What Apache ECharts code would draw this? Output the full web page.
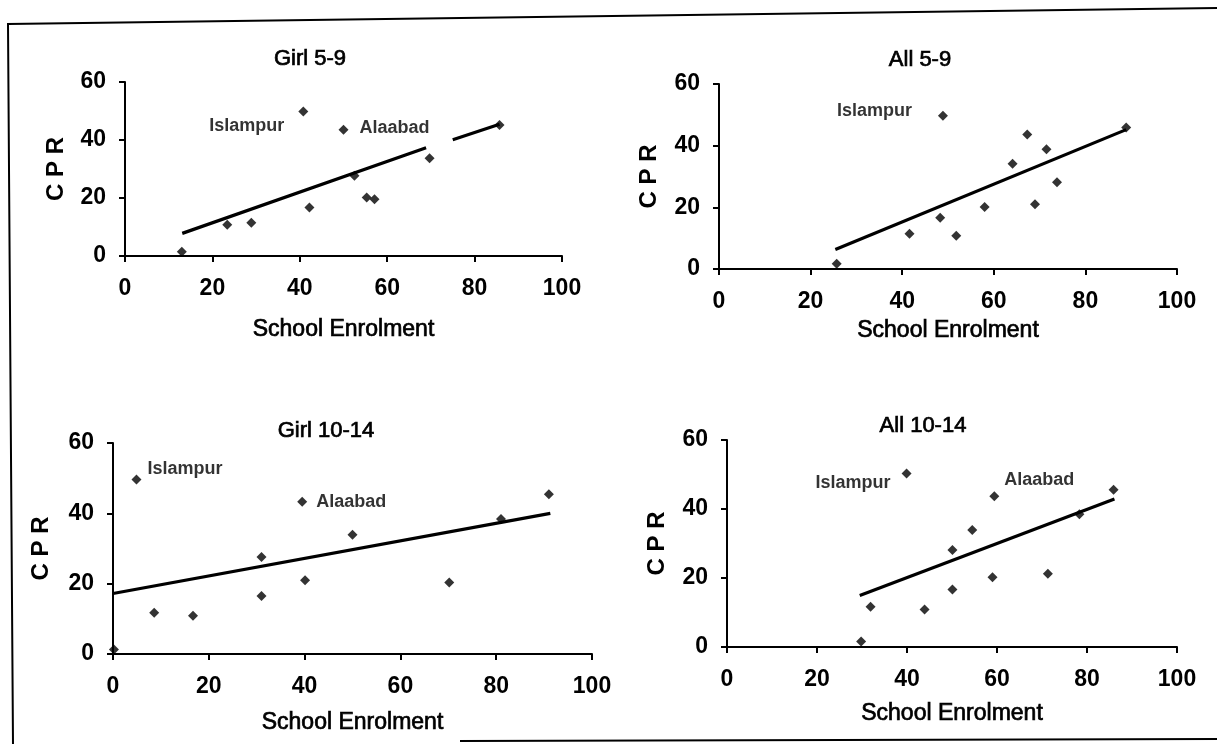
<!DOCTYPE html>
<html><head><meta charset="utf-8">
<script src="https://cdn.jsdelivr.net/npm/echarts@6/dist/echarts.min.js"></script>
<style>html,body{margin:0;padding:0;background:#fff}#c{width:1217px;height:744px}</style>
</head><body><div id="c"></div>
<script>
// ---------- data ----------
const panelTitles = ['Girl 5-9', 'All 5-9', 'Girl 10-14', 'All 10-14'];
const xAxisName = 'School Enrolment';
const yAxisName = 'C P R';
const xMin = 0, xMax = 100, xStep = 20;
const yMin = 0, yMax = 60, yStep = 20;

// Girl 5-9
const girl59X = [13, 23.4, 28.9, 40.8, 42.2, 50, 52.5, 55.3, 57.1, 69.7, 85.7];
const girl59Y = [1.5, 10.8, 11.5, 49.8, 16.7, 43.5, 27.7, 20.2, 19.6, 33.7, 45.2];
const girl59Names = ['', '', '', 'Islampur', '', 'Alaabad', '', '', '', '', ''];
const girl59TrendX = [13.1, 68.9, null, 75, 85.7];
const girl59TrendY = [7.8, 37.3, null, 40.1, 45.4];

// All 5-9
const all59X = [25.7, 41.6, 48.3, 48.9, 51.8, 58, 64.1, 67.3, 69, 71.5, 73.8, 88.9];
const all59Y = [1.7, 11.4, 16.6, 49.7, 10.8, 20.1, 34.1, 43.6, 21, 38.8, 28.1, 45.9];
const all59Names = ['', '', '', 'Islampur', '', '', '', '', '', '', '', ''];
const all59TrendX = [25.4, 88.9];
const all59TrendY = [6.3, 45.2];

// Girl 10-14
const girl1014X = [0.2, 4.9, 8.6, 16.7, 31, 31, 39.5, 40.1, 50, 70.2, 81, 91];
const girl1014Y = [1.3, 49.6, 11.7, 10.9, 27.6, 16.5, 43.3, 21, 33.9, 20.3, 38.4, 45.4];
const girl1014Names = ['', 'Islampur', '', '', '', '', 'Alaabad', '', '', '', '', ''];
const girl1014TrendX = [0, 91.3];
const girl1014TrendY = [17.2, 40];

// All 10-14
const all1014X = [29.8, 31.9, 39.9, 43.9, 50.1, 50.1, 54.5, 59, 59.4, 71.3, 78.3, 85.9];
const all1014Y = [1.6, 11.7, 50.3, 10.9, 28.1, 16.7, 33.9, 20.2, 43.7, 21.2, 38.5, 45.6];
const all1014Names = ['', '', 'Islampur', '', '', '', '', '', 'Alaabad', '', '', ''];
const all1014TrendX = [29.5, 86.1];
const all1014TrendY = [14.9, 42.9];

// ---------- layout / styles ----------
const FONT = "'Liberation Sans', Arial, Helvetica, sans-serif";
const panels = [
  {xs: girl59X, ys: girl59Y, names: girl59Names, tx: girl59TrendX, ty: girl59TrendY,
   grid: {left: 125, top: 82, width: 437, height: 174}, titleX: 310, titleY: 48, xNameGap: 62, yNameGap: 57,
   labelStyle: {Islampur: {position: 'left', distance: 14, offset: [0, 14]}, Alaabad: {position: 'right', distance: 11, offset: [0, -2]}}},
  {xs: all59X, ys: all59Y, names: all59Names, tx: all59TrendX, ty: all59TrendY,
   grid: {left: 719, top: 84, width: 458, height: 185}, titleX: 920, titleY: 49, xNameGap: 50, yNameGap: 58,
   labelStyle: {Islampur: {position: 'left', distance: 26, offset: [0, -5]}}},
  {xs: girl1014X, ys: girl1014Y, names: girl1014Names, tx: girl1014TrendX, ty: girl1014TrendY,
   grid: {left: 113, top: 443, width: 479, height: 211}, titleX: 326, titleY: 420, xNameGap: 57, yNameGap: 60,
   labelStyle: {Islampur: {position: 'right', distance: 6, offset: [0, -11]}, Alaabad: {position: 'right', distance: 9, offset: [0, 0]}}},
  {xs: all1014X, ys: all1014Y, names: all1014Names, tx: all1014TrendX, ty: all1014TrendY,
   grid: {left: 727, top: 440, width: 450, height: 207}, titleX: 923, titleY: 415, xNameGap: 55, yNameGap: 58,
   labelStyle: {Islampur: {position: 'left', distance: 11, offset: [0, 10]}, Alaabad: {position: 'right', distance: 5, offset: [0, -16]}}}
];

const axisLineStyle = {color: '#000', width: 2};
const grids = [], xAxes = [], yAxes = [], series = [], titles = [];
panels.forEach((p, i) => {
  grids.push(Object.assign({containLabel: false}, p.grid));
  titles.push({text: panelTitles[i], left: p.titleX, top: p.titleY, textAlign: 'center', padding: 0,
    textStyle: {fontFamily: FONT, fontSize: 22, fontWeight: 'normal', color: '#000', textBorderColor: '#000', textBorderWidth: 0.7}});
  xAxes.push({gridIndex: i, type: 'value', min: xMin, max: xMax, interval: xStep,
    name: xAxisName, nameLocation: 'middle', nameGap: p.xNameGap,
    nameTextStyle: {fontFamily: FONT, fontSize: 23, color: '#000', textBorderColor: '#000', textBorderWidth: 0.7},
    axisLine: {show: true, onZero: false, lineStyle: axisLineStyle},
    axisTick: {show: true, inside: false, length: 6, lineStyle: {color: '#000', width: 2}},
    axisLabel: {margin: 21, fontFamily: FONT, fontSize: 23, fontWeight: 'bold', color: '#000'},
    splitLine: {show: false}});
  yAxes.push({gridIndex: i, type: 'value', min: yMin, max: yMax, interval: yStep,
    name: yAxisName, nameLocation: 'middle', nameGap: p.yNameGap, nameRotate: 90,
    nameTextStyle: {fontFamily: FONT, fontSize: 24, fontWeight: 'bold', color: '#000'},
    axisLine: {show: true, onZero: false, lineStyle: axisLineStyle},
    axisTick: {show: true, inside: false, length: 6, lineStyle: {color: '#000', width: 2}},
    axisLabel: {margin: 19, fontFamily: FONT, fontSize: 23, fontWeight: 'bold', color: '#000'},
    splitLine: {show: false}});
  const pts = p.xs.map((x, k) => {
    const item = {value: [x, p.ys[k]]};
    const nm = p.names[k];
    if (nm) {
      const st = p.labelStyle[nm];
      item.label = {show: true, formatter: nm, position: st.position, distance: st.distance, offset: st.offset,
        fontFamily: FONT, fontSize: 18, fontWeight: 'bold', color: '#000'};
    }
    return item;
  });
  series.push({type: 'scatter', xAxisIndex: i, yAxisIndex: i, symbol: 'diamond', symbolSize: 10,
    itemStyle: {color: '#000'}, data: pts, silent: true, z: 3});
  const trend = p.tx.map((x, k) => (x === null ? ['-', '-'] : [x, p.ty[k]]));
  series.push({type: 'line', xAxisIndex: i, yAxisIndex: i, data: trend, showSymbol: false, symbol: 'none',
    connectNulls: false, lineStyle: {color: '#000', width: 3.2}, silent: true, z: 2});
});

const chart = echarts.init(document.getElementById('c'), null, {renderer: 'canvas'});
chart.setOption({
  animation: false,
  backgroundColor: '#fff',
  title: titles,
  grid: grids,
  xAxis: xAxes,
  yAxis: yAxes,
  series: series,
  graphic: [
    {type: 'polyline', shape: {points: [[1217, 8], [8, 24], [13, 744]]}, style: {stroke: '#000', lineWidth: 2, fill: null}, silent: true},
    {type: 'polyline', shape: {points: [[460, 741], [1217, 739]]}, style: {stroke: '#000', lineWidth: 2, fill: null}, silent: true}
  ]
});
</script>
</body></html>
